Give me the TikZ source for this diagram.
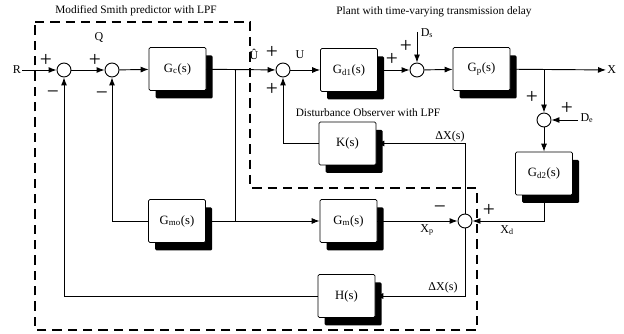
\documentclass[tikz,border=0pt]{standalone}
\usepackage{fontspec}
\setmainfont{Liberation Serif}
\usetikzlibrary{arrows.meta,shadows}
\tikzset{every picture/.style={line width=0.7pt}}
\tikzset{
blk/.style={draw, line width=0.5pt, fill=white, rounded corners=1pt, minimum width=42.75pt, minimum height=32.25pt, inner sep=1pt, font=\fontsize{9.5}{11}\selectfont, drop shadow={shadow xshift=5pt, shadow yshift=-6pt, fill=black, opacity=1}},
sumnode/.style={draw, circle, fill=white, minimum size=10.5pt, inner sep=0pt},
sig/.style={-{Latex[length=6pt,width=4.5pt]}},
lbl/.style={inner sep=0.75pt, font=\fontsize{9}{10}\selectfont},
sgn/.style={inner sep=0pt, font=\fontsize{16}{16}\selectfont},
ttl/.style={inner sep=0.75pt, font=\fontsize{8.5}{10}\selectfont},
grp/.style={dash pattern=on 7pt off 4.5pt, line width=1.4pt}
}

\begin{document}
\begin{tikzpicture}[x=0.75pt,y=0.75pt,yscale=-1]
\useasboundingbox (0,0) rectangle (624,334);

%Dashed border of the Smith predictor
\draw [grp] (35,22) -- (250,22) -- (250,188) -- (477,188) -- (477,330) -- (35,330) -- cycle ;

%Blocks
\node [blk] (gc) at (177.5,69) {G\textsubscript{c}(s)};
\node [blk] (gd1) at (349,70) {G\textsubscript{d1}(s)};
\node [blk] (gp) at (481.5,69) {G\textsubscript{p}(s)};
\node [blk] (gd2) at (544,173.5) {G\textsubscript{d2}(s)};
\node [blk] (k) at (347.5,143.5) {K(s)};
\node [blk] (gmo) at (177,221) {G\textsubscript{mo}(s)};
\node [blk] (gm) at (348.5,221) {G\textsubscript{m}(s)};
\node [blk] (h) at (346.5,296) {H(s)};

%Summing junctions
\node [sumnode] (s1) at (64,70) {};
\node [sumnode] (s2) at (112,70) {};
\node [sumnode] (s3) at (283,70) {};
\node [sumnode] (s4) at (417,70) {};
\node [sumnode] (s5) at (544,120) {};
\node [sumnode] (s6) at (465,221) {};

%Free ends and branch points
\coordinate (j1) at (235,70);
\coordinate (j2) at (235,221);
\coordinate (jx) at (544,70);
\coordinate (dsin) at (417,32);
\coordinate (dein) at (578,120);

% Text Node
\node [lbl] (rin) at (17,70) {R};
\node [lbl, anchor=west] (xout) at (606,70) {X};

%Forward path
\draw [sig] (rin) -- (s1);
\draw [sig] (s1) -- (s2);
\draw [sig] (s2) -- (gc);
\draw [sig] (gc) -- (s3);
\draw [sig] (s3) -- (gd1);
\draw [sig] (gd1) -- (s4);
\draw [sig] (s4) -- (gp);
\draw [sig] (gp) -- (xout);
\draw [sig] (dsin) -- (s4);
\draw [sig] (jx) -- (s5);
\draw [sig] (dein) -- (s5);
\draw [sig] (s5) -- (gd2);
\draw [sig] (gd2.south) |- (s6.east);

%Model path
\draw (j1) -- (j2);
\draw (gmo) -- (j2);
\draw [sig] (j2) -- (gm);
\draw [sig] (gm) -- (s6);
\draw [sig] (gmo.west) -| (s2.south);

%Feedback paths
\draw [sig] (s6.north) |- (k.east);
\draw [sig] (k.west) -| (s3.south);
\draw [sig] (s6.south) |- (h.east);
\draw [sig] (h.west) -| (s1.south);

% Text Node
\node [ttl] (ttlsp) at (136,11) {Modified Smith predictor with LPF};
\node [ttl] (ttlpl) at (434,12) {Plant with time-varying transmission delay};
\node [ttl] (ttldo) at (368,113) {Disturbance Observer with LPF};
% Text Node
\node [lbl] (lq) at (99,38) {Q};
\node [lbl] (luh) at (254,54) {Û};
\node [lbl] (lu) at (300,55) {U};
\node [lbl] (lds) at (427,33) {D\textsubscript{s}};
\node [lbl] (lde) at (587,118) {D\textsubscript{e}};
\node [lbl] (lxp) at (427,230) {X\textsubscript{p}};
\node [lbl] (lxd) at (507,230) {X\textsubscript{d}};
\node [lbl] (ldxk) at (450,137) {ΔX(s)};
\node [lbl] (ldxh) at (443,288) {ΔX(s)};
% Signs
\node [sgn] (p1) at (46,60) {+};
\node [sgn] (m1) at (53,95) {−};
\node [sgn] (p2) at (95,60) {+};
\node [sgn] (m2) at (102,96) {−};
\node [sgn] (p3a) at (272,52) {+};
\node [sgn] (p3b) at (272,89) {+};
\node [sgn] (p4a) at (392,59) {+};
\node [sgn] (p4b) at (406,46) {+};
\node [sgn] (p5a) at (532,97) {+};
\node [sgn] (p5b) at (567,108) {+};
\node [sgn] (m6) at (440,210) {−};
\node [sgn] (p6) at (489,210) {+};

\end{tikzpicture}
\end{document}
